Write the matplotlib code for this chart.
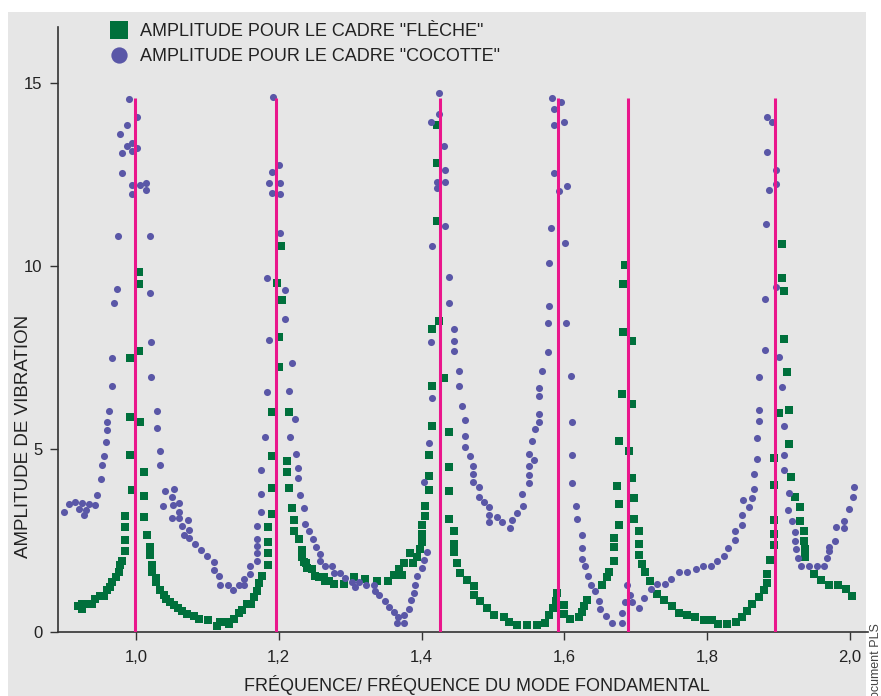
import matplotlib
matplotlib.use("Agg")
import matplotlib.pyplot as plt
from matplotlib.patches import Rectangle
import numpy as np

# Cadre "cocotte" (cercles violets)
cocotte_x = [0.900, 0.907, 0.915, 0.920, 0.924, 0.927, 0.930, 0.934, 0.943, 0.945, 0.951, 0.953, 0.956, 0.958, 0.959,
             0.960, 0.963, 0.967, 0.967, 0.970, 0.973, 0.975, 0.978, 0.980, 0.980, 0.987, 0.987, 0.991, 0.995, 0.995,
             0.995, 0.995, 1.001, 1.002, 1.006, 1.014, 1.014, 1.020, 1.020, 1.021, 1.021, 1.029, 1.029, 1.034, 1.034,
             1.041, 1.038, 1.051, 1.054, 1.052, 1.051, 1.061, 1.061, 1.061, 1.064, 1.068, 1.073, 1.075, 1.075, 1.083,
             1.091, 1.100, 1.109, 1.109, 1.117, 1.118, 1.129, 1.136, 1.144, 1.152, 1.152, 1.160, 1.160, 1.169, 1.169,
             1.169, 1.170, 1.169, 1.175, 1.175, 1.175, 1.181, 1.184, 1.187, 1.184, 1.191, 1.187, 1.190, 1.192, 1.201,
             1.202, 1.202, 1.202, 1.209, 1.209, 1.218, 1.214, 1.223, 1.216, 1.224, 1.227, 1.227, 1.230, 1.235, 1.237,
             1.243, 1.248, 1.252, 1.258, 1.258, 1.265, 1.274, 1.277, 1.286, 1.293, 1.302, 1.307, 1.313, 1.322, 1.333,
             1.335, 1.341, 1.349, 1.354, 1.361, 1.367, 1.365, 1.376, 1.376, 1.383, 1.385, 1.389, 1.391, 1.394, 1.401,
             1.403, 1.408, 1.404, 1.411, 1.414, 1.413, 1.415, 1.413, 1.421, 1.421, 1.424, 1.425, 1.431, 1.433, 1.433,
             1.433, 1.439, 1.439, 1.446, 1.446, 1.446, 1.452, 1.452, 1.457, 1.461, 1.461, 1.461, 1.468, 1.472, 1.472,
             1.472, 1.480, 1.480, 1.487, 1.495, 1.495, 1.495, 1.506, 1.513, 1.524, 1.526, 1.533, 1.542, 1.541, 1.550,
             1.550, 1.550, 1.557, 1.550, 1.554, 1.559, 1.564, 1.564, 1.564, 1.564, 1.568, 1.577, 1.577, 1.578, 1.578,
             1.581, 1.586, 1.586, 1.586, 1.583, 1.595, 1.600, 1.593, 1.604, 1.601, 1.602, 1.609, 1.611, 1.610, 1.611,
             1.616, 1.618, 1.625, 1.625, 1.624, 1.629, 1.633, 1.637, 1.643, 1.648, 1.650, 1.658, 1.667, 1.680, 1.681,
             1.685, 1.688, 1.692, 1.695, 1.705, 1.712, 1.721, 1.729, 1.741, 1.749, 1.760, 1.772, 1.784, 1.794, 1.805,
             1.813, 1.824, 1.829, 1.839, 1.839, 1.848, 1.848, 1.850, 1.859, 1.863, 1.865, 1.865, 1.869, 1.870, 1.873,
             1.873, 1.873, 1.881, 1.881, 1.882, 1.886, 1.884, 1.884, 1.891, 1.896, 1.896, 1.896, 1.901, 1.905, 1.907,
             1.907, 1.908, 1.914, 1.913, 1.918, 1.923, 1.923, 1.924, 1.927, 1.931, 1.942, 1.953, 1.963, 1.967, 1.971,
             1.971, 1.979, 1.980, 1.991, 1.991, 1.998, 2.004, 2.005]
cocotte_y = [3.27, 3.49, 3.54, 3.36, 3.52, 3.18, 3.32, 3.48, 3.47, 3.73, 4.17, 4.56, 4.79, 5.18, 5.51,
             5.73, 6.02, 6.71, 7.47, 9.00, 9.36, 10.83, 13.61, 12.55, 13.10, 13.87, 13.29, 14.58, 13.36, 13.14,
             12.22, 11.96, 14.08, 13.22, 12.22, 12.28, 12.07, 10.83, 9.27, 7.91, 6.97, 6.04, 5.57, 4.93, 4.56,
             3.84, 3.44, 3.69, 3.89, 3.45, 3.11, 3.51, 3.28, 3.10, 2.89, 2.63, 3.06, 2.77, 2.55, 2.39,
             2.22, 2.06, 1.89, 1.68, 1.53, 1.28, 1.28, 1.13, 1.27, 1.28, 1.43, 1.56, 1.78, 1.92, 2.16,
             2.35, 2.54, 2.89, 3.28, 3.76, 4.41, 5.33, 6.54, 7.97, 9.66, 11.99, 12.27, 12.56, 14.62, 12.77,
             12.27, 11.97, 10.90, 9.35, 8.54, 7.35, 6.58, 5.81, 5.33, 4.86, 4.47, 4.20, 3.73, 3.39, 2.95,
             2.74, 2.52, 2.32, 2.12, 1.92, 1.79, 1.79, 1.61, 1.61, 1.46, 1.35, 1.23, 1.35, 1.27, 1.27,
             1.11, 0.99, 0.84, 0.66, 0.53, 0.39, 0.24, 0.44, 0.24, 0.61, 0.86, 1.05, 1.28, 1.53, 1.74,
             1.96, 2.18, 4.08, 5.16, 6.38, 7.92, 10.55, 13.94, 12.31, 12.13, 14.15, 14.74, 13.29, 12.63, 12.31,
             11.09, 9.69, 8.99, 8.28, 7.95, 7.67, 7.14, 6.72, 6.18, 5.78, 5.34, 5.04, 4.81, 4.54, 4.31,
             4.10, 3.95, 3.69, 3.54, 3.40, 3.19, 3.00, 3.14, 3.00, 2.82, 3.06, 3.25, 3.43, 3.75, 4.06,
             4.29, 4.54, 4.69, 4.87, 5.20, 5.54, 5.73, 5.95, 6.43, 6.67, 7.13, 7.65, 8.44, 8.91, 10.08,
             11.04, 12.54, 13.85, 14.31, 14.61, 14.50, 13.94, 12.06, 12.19, 10.64, 8.44, 7.00, 5.74, 4.83, 4.07,
             3.44, 3.08, 2.64, 2.28, 1.99, 1.78, 1.52, 1.27, 1.10, 0.84, 0.62, 0.42, 0.24, 0.24, 0.51,
             0.80, 1.28, 1.01, 0.80, 0.65, 0.93, 1.15, 1.30, 1.30, 1.45, 1.64, 1.64, 1.70, 1.79, 1.79,
             1.94, 2.07, 2.29, 2.49, 2.76, 2.92, 3.19, 3.61, 3.42, 3.64, 3.90, 4.31, 4.73, 5.30, 5.76,
             6.07, 6.96, 7.69, 9.11, 11.14, 12.07, 13.12, 14.08, 13.93, 12.62, 12.24, 9.43, 7.52, 6.69, 5.62,
             4.82, 4.41, 3.79, 3.33, 3.02, 2.73, 2.47, 2.25, 2.02, 1.80, 1.80, 1.80, 1.80, 2.01, 2.21,
             2.31, 2.47, 2.87, 2.82, 3.03, 3.36, 3.67, 3.96]

# Cadre "fleche" (carres verts)
fleche_x = [0.919, 0.924, 0.924, 0.931, 0.938, 0.943, 0.950, 0.956, 0.959, 0.964, 0.967, 0.972, 0.977, 0.978, 0.981,
            0.985, 0.985, 0.985, 0.985, 0.994, 0.992, 0.992, 0.992, 1.004, 1.004, 1.004, 1.006, 1.011, 1.011, 1.011,
            1.015, 1.020, 1.020, 1.022, 1.023, 1.028, 1.028, 1.034, 1.039, 1.042, 1.048, 1.054, 1.059, 1.065, 1.071,
            1.082, 1.088, 1.101, 1.113, 1.118, 1.127, 1.130, 1.137, 1.144, 1.149, 1.155, 1.161, 1.165, 1.169, 1.172,
            1.177, 1.185, 1.185, 1.185, 1.185, 1.191, 1.191, 1.191, 1.191, 1.201, 1.201, 1.203, 1.198, 1.204, 1.215,
            1.211, 1.211, 1.215, 1.219, 1.221, 1.222, 1.229, 1.232, 1.233, 1.235, 1.238, 1.240, 1.246, 1.251, 1.256,
            1.263, 1.265, 1.271, 1.277, 1.292, 1.306, 1.321, 1.338, 1.353, 1.362, 1.368, 1.373, 1.376, 1.384, 1.388,
            1.394, 1.398, 1.401, 1.401, 1.401, 1.405, 1.405, 1.410, 1.410, 1.411, 1.415, 1.415, 1.415, 1.425, 1.421,
            1.421, 1.421, 1.431, 1.439, 1.439, 1.439, 1.439, 1.445, 1.445, 1.445, 1.449, 1.454, 1.464, 1.473, 1.473,
            1.482, 1.491, 1.501, 1.515, 1.523, 1.534, 1.547, 1.561, 1.573, 1.579, 1.584, 1.588, 1.590, 1.599, 1.600,
            1.608, 1.620, 1.625, 1.627, 1.632, 1.653, 1.660, 1.663, 1.670, 1.670, 1.670, 1.676, 1.676, 1.674, 1.677,
            1.681, 1.682, 1.682, 1.685, 1.695, 1.695, 1.691, 1.694, 1.698, 1.698, 1.704, 1.704, 1.704, 1.708, 1.713,
            1.720, 1.730, 1.739, 1.751, 1.761, 1.771, 1.783, 1.795, 1.806, 1.815, 1.828, 1.840, 1.849, 1.856, 1.863,
            1.873, 1.879, 1.883, 1.883, 1.888, 1.894, 1.894, 1.894, 1.894, 1.894, 1.901, 1.904, 1.904, 1.907, 1.907,
            1.912, 1.915, 1.915, 1.917, 1.923, 1.930, 1.930, 1.935, 1.935, 1.937, 1.937, 1.949, 1.959, 1.970, 1.983,
            1.994, 2.003]
fleche_y = [0.71, 0.74, 0.62, 0.74, 0.74, 0.88, 0.97, 0.97, 1.14, 1.23, 1.36, 1.50, 1.62, 1.82, 1.94,
            2.19, 2.50, 2.85, 3.15, 3.86, 4.82, 5.86, 7.47, 7.67, 9.83, 9.50, 5.72, 4.36, 3.70, 3.12,
            2.63, 2.30, 2.08, 1.81, 1.64, 1.46, 1.35, 1.14, 0.99, 0.90, 0.82, 0.73, 0.63, 0.56, 0.48,
            0.42, 0.35, 0.31, 0.14, 0.25, 0.27, 0.20, 0.34, 0.50, 0.59, 0.75, 0.74, 0.95, 1.12, 1.32,
            1.51, 1.81, 2.14, 2.44, 2.85, 3.21, 3.92, 4.79, 6.00, 7.23, 8.07, 10.54, 9.53, 9.06, 6.00,
            4.66, 4.36, 3.92, 3.37, 3.04, 2.74, 2.52, 2.23, 2.05, 1.91, 1.87, 1.75, 1.70, 1.52, 1.50,
            1.50, 1.37, 1.37, 1.30, 1.30, 1.50, 1.43, 1.39, 1.39, 1.54, 1.72, 1.54, 1.87, 2.14, 1.87,
            2.03, 2.25, 2.44, 2.66, 2.91, 3.16, 3.43, 3.87, 4.25, 4.82, 5.61, 6.71, 8.28, 8.49, 11.22,
            12.81, 13.85, 6.93, 5.45, 4.49, 3.84, 3.07, 2.74, 2.39, 2.17, 1.87, 1.59, 1.40, 1.24, 0.99,
            0.83, 0.64, 0.44, 0.40, 0.25, 0.18, 0.18, 0.18, 0.23, 0.44, 0.63, 0.84, 1.06, 0.73, 0.49,
            0.33, 0.39, 0.52, 0.70, 0.86, 1.27, 1.49, 1.63, 1.92, 2.31, 2.56, 2.91, 3.49, 3.98, 5.20,
            6.49, 8.19, 9.50, 10.02, 7.94, 6.22, 4.93, 4.20, 3.65, 3.08, 2.75, 2.39, 2.08, 1.85, 1.63,
            1.38, 1.02, 0.86, 0.69, 0.50, 0.45, 0.40, 0.31, 0.31, 0.21, 0.21, 0.25, 0.40, 0.56, 0.75,
            0.94, 1.14, 1.33, 1.57, 1.95, 2.36, 2.66, 3.05, 4.01, 4.74, 5.97, 9.67, 10.59, 9.33, 7.99,
            7.09, 6.05, 5.13, 4.22, 3.67, 3.42, 3.02, 2.74, 2.47, 2.25, 2.04, 1.57, 1.40, 1.27, 1.27,
            1.15, 0.96]

# Frequences de resonance (traits magenta)
resonances = [0.999, 1.196, 1.426, 1.591, 1.689, 1.895]
resonance_top = 14.6

xticks = [1.0, 1.2, 1.4, 1.6, 1.8, 2.0]
xtick_labels = ["1,0", "1,2", "1,4", "1,6", "1,8", "2,0"]
yticks = [0, 5, 10, 15]
ytick_labels = ["0", "5", "10", "15"]

plt.rcParams['font.family'] = ['Liberation Sans', 'DejaVu Sans']

W, H = 881, 696
fig = plt.figure(figsize=(W / 100, H / 100), dpi=100, facecolor='white')

# light grey panel behind everything
fig.patches.append(Rectangle((8 / W, 0), (866 - 8) / W, (H - 12) / H,
                             transform=fig.transFigure, facecolor='#e6e6e6',
                             edgecolor='none', zorder=-10))

ax = fig.add_axes([58 / W, 1 - 631.5 / H, 810 / W, (631.5 - 27) / H])
ax.set_facecolor('none')

green = '#00703c'
purple = '#5a57a7'
magenta = '#ea168c'

ax.plot(fleche_x, fleche_y, ls='none', marker='s', ms=5.4, mew=0, color=green,
        label='AMPLITUDE POUR LE CADRE "FLÈCHE"', zorder=2)
ax.plot(cocotte_x, cocotte_y, ls='none', marker='o', ms=5.1, mew=0, color=purple,
        label='AMPLITUDE POUR LE CADRE "COCOTTE"', zorder=2)
ax.vlines(resonances, 0, resonance_top, colors=magenta, lw=2.2, zorder=3)

ax.set_xlim(0.891, 2.025)
ax.set_ylim(0, 16.54)

for s in ['top', 'right']:
    ax.spines[s].set_visible(False)
for s in ['left', 'bottom']:
    ax.spines[s].set_color('#333333')
    ax.spines[s].set_linewidth(1.2)

ax.set_xticks(xticks)
ax.set_xticklabels(xtick_labels)
ax.set_yticks(yticks)
ax.set_yticklabels(ytick_labels)
ax.tick_params(axis='both', direction='out', length=6, width=1, color='#333333',
               labelsize=12, labelcolor='#222222')
ax.tick_params(axis='x', pad=7)
ax.tick_params(axis='y', pad=5)

fig.text(477 / W, 1 - 685 / H, "FRÉQUENCE/ FRÉQUENCE DU MODE FONDAMENTAL",
         ha='center', va='center', fontsize=13, color='#222222')
fig.text(24 / W, 1 - 436 / H, "AMPLITUDE DE VIBRATION", rotation=90,
         ha='center', va='center', fontsize=13.5, color='#222222')
fig.text(876 / W, 1 - 623 / H, "Document PLS", rotation=90,
         ha='center', va='top', fontsize=9, color='#444444')

leg = ax.legend(loc='upper left', bbox_to_anchor=(110 / W, 1 - 23 / H),
                bbox_transform=fig.transFigure, frameon=False, fontsize=13,
                markerscale=2.3, numpoints=1, handlelength=1.0,
                handletextpad=0.65, labelspacing=0.45, borderpad=0,
                borderaxespad=0)
for t in leg.get_texts():
    t.set_color('#222222')

fig.savefig('out.png', dpi=100, facecolor=fig.get_facecolor())
